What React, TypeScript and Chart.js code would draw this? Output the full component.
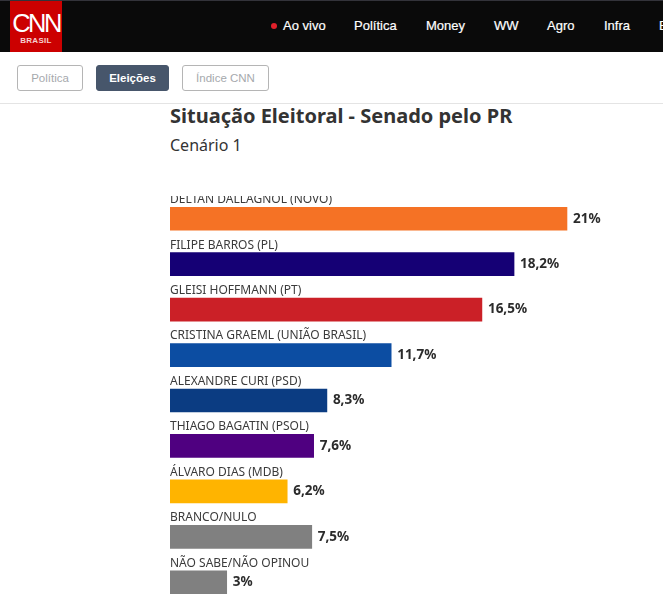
import React, { useEffect, useRef } from "react";
import { Chart, registerables } from "chart.js";

Chart.register(...registerables);

const categories = [
  "DELTAN DALLAGNOL (NOVO)",
  "FILIPE BARROS (PL)",
  "GLEISI HOFFMANN (PT)",
  "CRISTINA GRAEML (UNIÃO BRASIL)",
  "ALEXANDRE CURI (PSD)",
  "THIAGO BAGATIN (PSOL)",
  "ÁLVARO DIAS (MDB)",
  "BRANCO/NULO",
  "NÃO SABE/NÃO OPINOU",
];
const values = [21, 18.2, 16.5, 11.7, 8.3, 7.6, 6.2, 7.5, 3];
const valueLabels = ["21%", "18,2%", "16,5%", "11,7%", "8,3%", "7,6%", "6,2%", "7,5%", "3%"];
const barColors = ["#F57225", "#150075", "#CB2027", "#0C4DA2", "#0B3C82", "#4F0080", "#FFB400", "#808080", "#808080"];
const navItems = ["Ao vivo", "Política", "Money", "WW", "Agro", "Infra", "E"];
const navLefts = [283, 354, 426, 494, 547, 604, 659];
const FONT = '"Noto Sans", "Open Sans", sans-serif';

const labelPlugin = {
  id: "barLabels",
  afterDatasetsDraw(chart: any) {
    const { ctx } = chart;
    const meta = chart.getDatasetMeta(0);
    ctx.save();
    meta.data.forEach((bar: any, i: number) => {
      ctx.textBaseline = "middle";
      ctx.textAlign = "left";
      ctx.fillStyle = "#3b3b3b";
      ctx.font = `12px ${FONT}`;
      ctx.fillText(categories[i], chart.scales.x.left, bar.y - 19);
      ctx.fillStyle = "#2b2b2b";
      ctx.font = `bold 13.5px ${FONT}`;
      ctx.fillText(valueLabels[i], bar.x + 6, bar.y);
    });
    ctx.restore();
  },
};

const btn = (left: number, width: number, active: boolean): React.CSSProperties => ({
  position: "absolute",
  left,
  top: 65,
  width,
  height: 26,
  boxSizing: "border-box",
  borderRadius: 3,
  border: active ? "1px solid #47566b" : "1px solid #b5b5b5",
  background: active ? "#47566b" : "#fff",
  color: active ? "#fff" : "#a6a9ad",
  fontFamily: '"Liberation Sans", Arial, sans-serif',
  fontSize: 11.5,
  fontWeight: active ? 700 : 400,
  textAlign: "center",
  lineHeight: "24px",
});

export default function App() {
  const ref = useRef<HTMLCanvasElement>(null);
  useEffect(() => {
    const chart = new Chart(ref.current!, {
      type: "bar",
      data: {
        labels: categories,
        datasets: [{ data: values, backgroundColor: barColors, barThickness: 23, borderWidth: 0 }],
      },
      options: {
        indexAxis: "y",
        animation: false,
        responsive: false,
        maintainAspectRatio: false,
        layout: { padding: 0 },
        plugins: { legend: { display: false }, tooltip: { enabled: false }, title: { display: false } },
        scales: {
          x: { display: false, min: 0, max: 26.08 },
          y: { display: false },
        },
      },
      plugins: [labelPlugin],
    });
    return () => chart.destroy();
  }, []);

  return (
    <div style={{ position: "fixed", left: 0, top: 0, width: 663, height: 597, overflow: "hidden", background: "#fff" }}>
      <div style={{ position: "absolute", left: 0, top: 0, width: 663, height: 52, background: "#0a0a0a", borderTop: "1px solid #33333a", boxSizing: "border-box" }} />
      <div style={{ position: "absolute", left: 10, top: 1, width: 52, height: 51, background: "#cc0000", color: "#fff", textAlign: "center", fontFamily: '"Liberation Sans", Arial, sans-serif' }}>
        <div style={{ fontSize: 25, lineHeight: "25px", marginTop: 10, letterSpacing: -2.5, fontWeight: 400, transform: "scaleX(1.02)" }}>CNN</div>
        <div style={{ fontSize: 8, lineHeight: "9px", fontWeight: 700, marginTop: 0, letterSpacing: 0.3, color: "#f6d0d0" }}>BRASIL</div>
      </div>
      <div style={{ position: "absolute", left: 271, top: 23, width: 6, height: 6, borderRadius: 3, background: "#e0202a" }} />
      {navItems.map((t, i) => (
        <div key={t} style={{ position: "absolute", left: navLefts[i], top: 17, color: "#fff", fontFamily: '"Liberation Sans", Arial, sans-serif', fontSize: 13, lineHeight: "18px", WebkitTextStroke: "0.2px #fff", whiteSpace: "nowrap" }}>{t}</div>
      ))}
      <div style={btn(17, 66, false)}>Política</div>
      <div style={btn(96, 73, true)}>Eleições</div>
      <div style={btn(182, 87, false)}>Índice CNN</div>
      <div style={{ position: "absolute", left: 0, top: 103, width: 663, height: 1, background: "#e4e4e4" }} />
      <div style={{ position: "absolute", left: 170, top: 102, fontFamily: FONT, fontSize: 20, fontWeight: 700, lineHeight: "28px", color: "#333", whiteSpace: "nowrap" }}>Situação Eleitoral - Senado pelo PR</div>
      <div style={{ position: "absolute", left: 170, top: 133, fontFamily: FONT, fontSize: 16, lineHeight: "24px", color: "#333", whiteSpace: "nowrap" }}>Cenário 1</div>
      <canvas ref={ref} width={493} height={409} style={{ position: "absolute", left: 170, top: 196, width: 493, height: 409 }} />
    </div>
  );
}
